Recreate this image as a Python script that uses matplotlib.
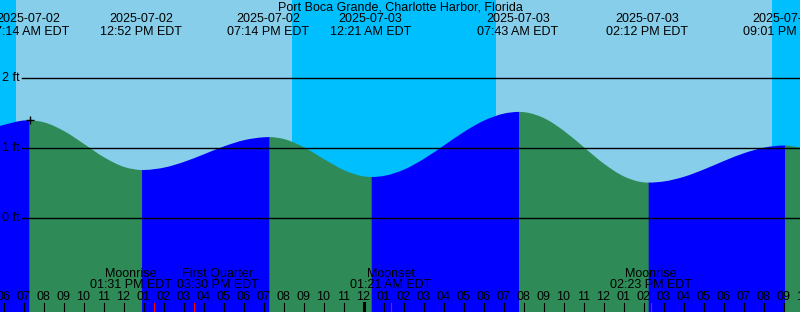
import matplotlib
matplotlib.use("Agg")
import matplotlib.pyplot as plt
import matplotlib.transforms as mtransforms
from matplotlib.path import Path
from matplotlib.patches import PathPatch
from datetime import datetime

plt.rcParams['font.family'] = ['Liberation Sans', 'DejaVu Sans']

# ---------------- data ----------------
title = "Port Boca Grande, Charlotte Harbor, Florida"
origin = datetime(2025, 7, 2, 0, 0)

extreme_times = ["2025-07-02 07:14", "2025-07-02 12:52", "2025-07-02 19:14",
                 "2025-07-03 00:21", "2025-07-03 07:43", "2025-07-03 14:12",
                 "2025-07-03 21:01"]
extreme_ft = [1.40, 0.69, 1.16, 0.59, 1.52, 0.51, 1.04]

# tide height (hours since 2025-07-02 00:00)
curve_hours = [5.765, 6, 7, 8, 9, 10, 11, 12, 13, 14, 15, 16, 17, 18, 19, 20,
               21, 22, 23, 24, 25, 26, 27, 28, 29, 30, 31, 32, 33, 34, 35, 36,
               37, 38, 39, 40, 41, 42, 43, 44, 45, 45.765]
curve_ft = [1.32, 1.338, 1.398, 1.368, 1.241, 1.055, 0.866, 0.731, 0.6905, 0.726,
            0.809, 0.919, 1.031, 1.118, 1.158, 1.129, 1.008, 0.839, 0.683, 0.597,
            0.608, 0.700, 0.856, 1.048, 1.241, 1.400, 1.498, 1.515, 1.426, 1.241,
            1.005, 0.771, 0.593, 0.512, 0.528, 0.596, 0.702, 0.823, 0.933, 1.011,
            1.040, 1.01]

sunrise_times = ["2025-07-02 06:37", "2025-07-03 06:37"]
sunset_times = ["2025-07-02 20:25", "2025-07-03 20:25"]

moon_events = ["Moonrise", "First Quarter", "Moonset", "Moonrise"]
moon_times = ["2025-07-02 13:31", "2025-07-02 15:30", "2025-07-03 01:21",
              "2025-07-03 14:23"]
moon_label_shift_h = [-1.15, 1.2, 0.0, 0.0]

grid_ft = [0, 1, 2]
hour_ticks = list(range(6, 47))
now_marker = (7.33, 1.40)

# small horizontal offset of the tide layer seen in the source chart
tide_offset_h = 0.06

# ---------------- helpers ----------------
def parse(s):
    return datetime.strptime(s, "%Y-%m-%d %H:%M")

def hours(s):
    return (parse(s) - origin).total_seconds() / 3600.0

ext_h = [hours(s) for s in extreme_times]

# ---------------- figure ----------------
W, H = 800, 312
fig = plt.figure(figsize=(W / 100, H / 100), dpi=100)
ax = fig.add_axes([0, 0, 1, 1])
x0, x1 = 5.825, 45.825
y0, y1 = -1.339, 3.119
ax.set_xlim(x0, x1)
ax.set_ylim(y0, y1)
ax.axis('off')

# night background then day bands
ax.axvspan(x0, x1, color='#00BFFF', lw=0, zorder=0)
for sr, ss in zip(sunrise_times, sunset_times):
    ax.axvspan(hours(sr), hours(ss), color='#87CEEB', lw=0, zorder=0.5)

# tide curve: merge readings with extremes, smooth cubic path through them
ext_x = [h + tide_offset_h for h in ext_h]
ext_set = set(ext_x)
pts = sorted([(h + tide_offset_h, f) for h, f in zip(curve_hours, curve_ft)] +
             list(zip(ext_x, extreme_ft)))
th = [p[0] for p in pts]
tf = [p[1] for p in pts]
n = len(pts)
slopes = []
for i in range(n):
    if th[i] in ext_set:
        slopes.append(0.0)
    elif i == 0:
        slopes.append((tf[1] - tf[0]) / (th[1] - th[0]))
    elif i == n - 1:
        slopes.append((tf[-1] - tf[-2]) / (th[-1] - th[-2]))
    else:
        h0 = th[i] - th[i - 1]
        h1 = th[i + 1] - th[i]
        d0 = (tf[i] - tf[i - 1]) / h0
        d1 = (tf[i + 1] - tf[i]) / h1
        slopes.append((d0 * h1 + d1 * h0) / (h0 + h1))

bounds = [th[0]] + ext_x + [th[-1]]
eps = 0.04
for k, (a, b) in enumerate(zip(bounds[:-1], bounds[1:])):
    idx = [i for i in range(n) if a - 1e-9 <= th[i] <= b + 1e-9]
    verts = [(th[idx[0]], y0), (th[idx[0]], tf[idx[0]])]
    codes = [Path.MOVETO, Path.LINETO]
    for i, j in zip(idx[:-1], idx[1:]):
        dt = th[j] - th[i]
        verts += [(th[i] + dt / 3, tf[i] + slopes[i] * dt / 3),
                  (th[j] - dt / 3, tf[j] - slopes[j] * dt / 3),
                  (th[j], tf[j])]
        codes += [Path.CURVE4] * 3
    end_x = th[idx[-1]]
    if k < len(bounds) - 2:
        # slight overlap under the next segment so no seam shows
        verts.append((end_x + eps, tf[idx[-1]]))
        codes.append(Path.LINETO)
        end_x += eps
    verts += [(end_x, y0), (th[idx[0]], y0)]
    codes += [Path.LINETO, Path.CLOSEPOLY]
    rising = tf[idx[-1]] > tf[idx[0]]
    col = '#0000FF' if rising else '#2E8B57'
    ax.add_patch(PathPatch(Path(verts, codes), facecolor=col, edgecolor='none',
                           lw=0, zorder=2 + 0.01 * k))

# grid lines and labels
ytrans = mtransforms.blended_transform_factory(ax.transAxes, ax.transData)
for g in grid_ft:
    ax.axhline(g, xmin=22 / W, xmax=1, color='black', lw=1.0, zorder=3)
    ax.text(20 / W, g, f"{g} ft", transform=ytrans, ha='right', va='center', fontsize=9, zorder=4)

ax.plot([now_marker[0]], [now_marker[1]], marker='+', ms=6, mew=1.0, color='black', zorder=5)

trans = mtransforms.blended_transform_factory(ax.transData, ax.transAxes)

# title
ax.text(0.5, 1 - 7 / H, title, transform=ax.transAxes, ha='center', va='center', fontsize=9)

# extreme labels
for s, h in zip(extreme_times, ext_h):
    d = parse(s)
    ax.text(h, 1 - 19 / H, d.strftime("%Y-%m-%d"), transform=trans, ha='center', va='center', fontsize=9, zorder=6)
    ax.text(h, 1 - 32 / H, d.strftime("%I:%M %p EDT"), transform=trans, ha='center', va='center', fontsize=9, zorder=6)

# hour ticks
tick_len = 9 / H
for h in hour_ticks:
    ax.axvline(h, ymin=0, ymax=tick_len, color='black', lw=0.8, zorder=4)
    lab = "%02d" % ((h - 1) % 12 + 1)
    ax.text(h, 15 / H, lab, transform=trans, ha='center', va='center', fontsize=9, zorder=6)

# midnight marker
ax.axvline(24, ymin=0, ymax=tick_len, color='black', lw=2.2, zorder=5)

# moon events
for name, s, sh in zip(moon_events, moon_times, moon_label_shift_h):
    h = hours(s)
    d = parse(s)
    ax.axvline(h, ymin=0, ymax=tick_len, color='red', lw=0.8, zorder=5)
    ax.text(h + sh, 38 / H, name, transform=trans, ha='center', va='center', fontsize=9, zorder=6)
    ax.text(h + sh, 27 / H, d.strftime("%I:%M %p EDT"), transform=trans, ha='center', va='center', fontsize=9, zorder=6)

fig.savefig("out.png", dpi=100)
